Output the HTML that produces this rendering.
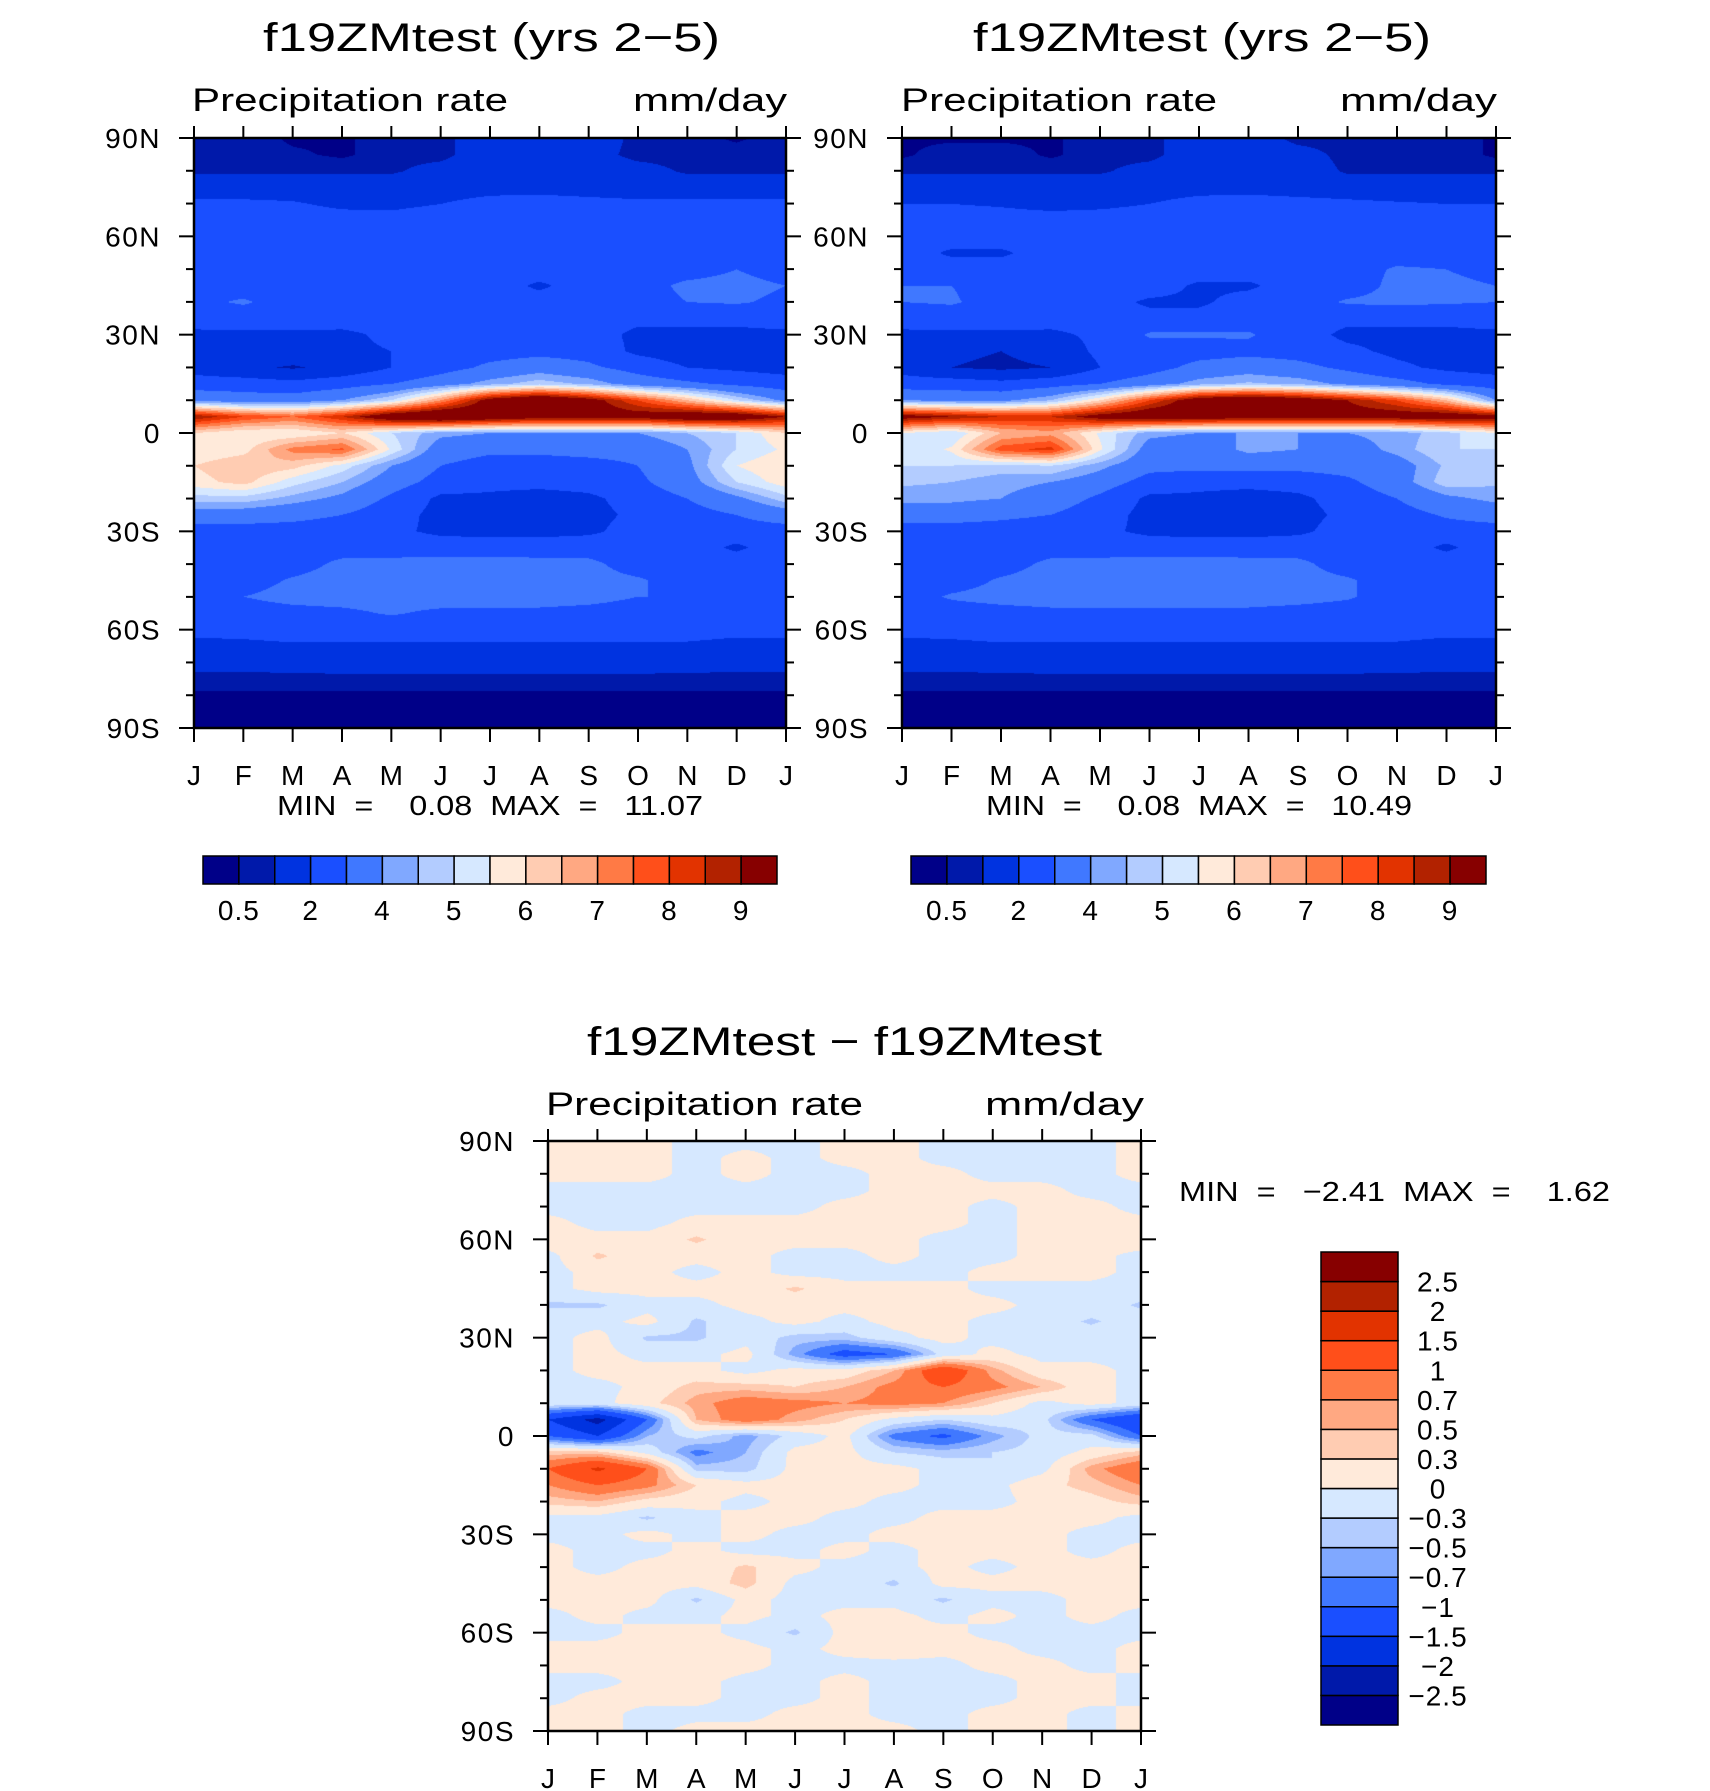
<!DOCTYPE html>
<html><head><meta charset="utf-8"><style>
html,body{margin:0;padding:0;background:#fff;}
#wrap{position:relative;width:1710px;height:1791px;overflow:hidden;}
canvas{position:absolute;}
svg{position:absolute;left:0;top:0;}
text{font-family:"Liberation Sans",sans-serif;fill:#000;white-space:pre;}
</style></head><body>
<div id="wrap">
<canvas id="c1"></canvas>
<canvas id="c2"></canvas>
<canvas id="c3"></canvas>
<svg id="ov" width="1710" height="1791"></svg>
</div>
<script>
// ---- data ----
const months = ["J","F","M","A","M","J","J","A","S","O","N","D","J"];
const latLabels = ["90N","60N","30N","0","30S","60S","90S"];
const colors = ["#000088","#0019aa","#0033e0","#1a4fff","#4078ff","#80a8ff","#b3ccff","#d6e8ff","#ffeada","#ffccb2","#ffa882","#ff7a45","#ff4f1a","#e23300","#b22200","#870000"];
const precipLevels = [0.5,1,2,3,4,4.5,5,5.5,6,6.5,7,7.5,8,8.5,9];
const precipLabelIdx = [0,2,4,6,8,10,12,14];
const precipLabels = ["0.5","2","4","5","6","7","8","9"];
const diffLevels = [-2.5,-2,-1.5,-1,-0.7,-0.5,-0.3,0,0.3,0.5,0.7,1,1.5,2,2.5];
const diffLabels = ["-2.5","-2","-1.5","-1","-0.7","-0.5","-0.3","0","0.3","0.5","0.7","1","1.5","2","2.5"];
// rows: latitude 90N to 90S every 5 deg; columns: J..D,J
const precip1 = [
[0.8,0.8,0.4,0.4,0.8,0.8,1.5,1.5,1.5,0.8,0.8,0.4,0.8],
[0.8,0.8,0.6,0.4,0.8,0.8,1.5,1.5,1.3,0.8,0.8,0.8,0.8],
[0.9,0.9,0.9,0.9,0.9,1.3,1.5,1.5,1.5,1.3,0.9,0.9,0.9],
[1.5,1.5,1.5,1.5,1.5,1.6,1.7,1.7,1.6,1.5,1.5,1.5,1.5],
[2.2,2.2,2.1,1.8,1.8,2.0,2.3,2.4,2.3,2.2,2.2,2.2,2.2],
[2.5,2.5,2.5,2.4,2.3,2.5,2.6,2.6,2.6,2.5,2.5,2.5,2.5],
[2.6,2.6,2.6,2.6,2.6,2.6,2.6,2.6,2.6,2.6,2.6,2.6,2.6],
[2.6,2.6,2.6,2.6,2.6,2.6,2.6,2.6,2.6,2.6,2.6,2.6,2.6],
[2.6,2.6,2.6,2.6,2.6,2.6,2.6,2.6,2.6,2.6,2.6,3.0,2.6],
[3.0,2.6,2.6,2.6,2.6,2.6,2.6,1.8,2.6,2.6,3.2,3.3,3.0],
[2.8,3.1,2.6,2.5,2.5,2.5,2.5,2.5,2.6,2.6,3.0,3.1,2.8],
[2.4,2.5,2.5,2.4,2.4,2.4,2.4,2.6,2.5,2.2,2.2,2.2,2.4],
[1.8,1.8,1.8,1.8,2.2,2.4,2.5,2.5,2.4,1.8,1.8,1.8,1.8],
[1.5,1.5,1.6,1.8,2.0,2.5,2.6,2.7,2.6,1.8,1.5,1.5,1.5],
[1.6,1.2,0.9,1.3,2.0,2.6,3.2,3.6,3.2,2.6,2.0,1.8,1.6],
[2.5,2.5,2.3,2.6,3.0,3.6,4.3,4.8,4.4,3.6,3.2,2.8,2.5],
[3.8,3.5,3.5,4.0,5.0,7.0,9.5,10.5,9.5,8.0,6.5,5.0,3.8],
[9.0,8.0,7.5,8.5,10,10.5,10,9.5,9.5,9.5,10,10,9.0],
[6.0,5.5,5.5,6.0,5.0,4.2,4.0,4.0,4.0,4.0,4.5,5.0,6.0],
[5.6,5.8,7.2,7.6,5.4,3.5,3.2,3.2,3.3,3.3,4.0,5.0,5.6],
[6.0,6.4,6.2,5.3,4.0,3.0,2.6,2.6,2.7,3.0,3.8,5.5,6.0],
[5.8,6.2,5.2,4.5,3.5,2.6,2.3,2.3,2.4,2.8,3.6,5.0,5.8],
[4.8,4.8,4.3,3.8,2.8,1.8,1.8,1.6,1.8,2.4,3.0,3.8,4.8],
[3.5,3.5,3.3,3.0,2.4,1.7,1.6,1.6,1.7,2.2,2.6,3.0,3.5],
[2.6,2.6,2.6,2.5,2.2,1.8,1.7,1.7,1.8,2.4,2.5,2.6,2.6],
[2.6,2.6,2.6,2.6,2.5,2.5,2.5,2.5,2.6,2.6,2.6,1.8,2.6],
[2.6,2.6,2.6,3.2,3.3,3.4,3.4,3.3,3.2,2.6,2.6,2.6,2.6],
[2.6,2.6,3.1,3.4,3.5,3.5,3.5,3.5,3.3,3.1,2.6,2.6,2.6],
[2.6,3.0,3.3,3.4,3.4,3.5,3.5,3.4,3.3,3.0,3.0,2.6,2.6],
[2.5,2.6,2.7,2.8,3.1,2.8,2.8,2.8,2.7,2.6,2.6,2.5,2.5],
[2.2,2.3,2.4,2.4,2.4,2.4,2.4,2.4,2.4,2.4,2.3,2.2,2.2],
[1.8,1.8,1.9,1.9,1.9,1.9,1.9,1.9,1.9,1.9,1.9,1.8,1.8],
[1.3,1.3,1.4,1.5,1.5,1.5,1.5,1.5,1.5,1.5,1.4,1.3,1.3],
[0.8,0.8,0.8,0.8,0.8,0.8,0.8,0.8,0.8,0.8,0.8,0.8,0.8],
[0.4,0.4,0.4,0.4,0.4,0.4,0.4,0.4,0.4,0.4,0.4,0.4,0.4],
[0.3,0.3,0.3,0.3,0.3,0.3,0.3,0.3,0.3,0.3,0.3,0.3,0.3],
[0.3,0.3,0.3,0.3,0.3,0.3,0.3,0.3,0.3,0.3,0.3,0.3,0.3]
];
const precip2 = [
[0.4,0.4,0.4,0.4,0.8,0.8,1.5,1.5,0.8,0.8,0.8,0.8,0.4],
[0.4,0.8,0.8,0.4,0.8,0.8,1.5,1.5,1.3,0.8,0.8,0.8,0.4],
[0.9,0.9,0.9,0.9,0.9,1.3,1.5,1.5,1.5,0.9,0.9,0.9,0.9],
[1.4,1.4,1.5,1.5,1.5,1.6,1.7,1.7,1.6,1.5,1.4,1.4,1.4],
[2.0,2.0,1.9,1.7,1.8,2.0,2.3,2.4,2.3,2.2,2.1,2.0,2.0],
[2.5,2.5,2.4,2.4,2.4,2.5,2.6,2.6,2.6,2.5,2.5,2.5,2.5],
[2.6,2.6,2.6,2.6,2.6,2.6,2.6,2.6,2.6,2.6,2.6,2.6,2.6],
[2.6,1.8,1.8,2.6,2.6,2.6,2.6,2.6,2.6,2.6,2.6,2.6,2.6],
[2.6,2.6,2.6,2.6,2.6,2.6,2.6,2.6,2.6,2.6,3.1,3.0,2.6],
[3.0,3.0,2.6,2.6,2.6,2.6,1.8,1.8,2.6,2.6,3.2,3.3,3.0],
[3.0,3.1,2.6,2.5,2.5,1.8,1.8,2.5,2.6,3.1,3.2,3.1,3.0],
[2.4,2.5,2.5,2.4,2.4,2.4,2.4,2.6,2.5,2.2,2.2,2.2,2.4],
[1.8,1.8,1.8,1.8,2.2,3.1,3.1,3.1,2.4,1.8,1.8,1.8,1.8],
[1.6,1.2,1.0,1.4,2.2,2.5,2.6,2.7,2.6,2.2,1.8,1.6,1.6],
[1.6,1.0,0.8,1.0,2.0,2.6,3.3,3.6,3.3,2.8,2.2,1.8,1.6],
[2.5,2.5,2.3,2.6,3.0,3.6,4.3,4.6,4.4,3.8,3.4,2.8,2.5],
[4.0,3.8,3.8,4.5,6.0,8.0,9.8,10.3,9.8,9.0,8.0,6.5,4.0],
[9.5,9.0,8.5,8.5,9.5,10,9.8,9.5,9.5,9.5,9.6,9.8,9.5],
[5.5,5.0,6.5,6.8,5.4,4.2,4.0,4.0,4.0,4.0,4.2,4.8,5.5],
[5.0,5.6,7.8,8.2,5.6,3.6,3.4,4.2,4.0,3.6,4.2,5.0,5.0],
[5.0,5.0,4.8,5.0,4.2,3.3,3.3,3.3,3.3,3.4,3.6,4.6,5.0],
[4.6,4.5,4.2,4.0,3.5,2.6,2.3,2.3,2.4,2.8,3.6,4.8,4.6],
[4.2,4.2,4.0,3.6,2.8,1.8,1.8,1.6,1.8,2.4,3.0,3.8,4.2],
[3.4,3.4,3.2,3.0,2.4,1.7,1.6,1.6,1.7,2.2,2.6,3.1,3.4],
[2.6,2.6,2.6,2.5,2.2,1.8,1.7,1.7,1.8,2.4,2.5,2.6,2.6],
[2.6,2.6,2.6,2.6,2.5,2.5,2.5,2.5,2.6,2.6,2.6,1.8,2.6],
[2.6,2.6,2.6,3.2,3.3,3.4,3.4,3.3,3.2,2.6,2.6,2.6,2.6],
[2.6,2.6,3.1,3.4,3.5,3.5,3.5,3.5,3.3,3.1,2.6,2.6,2.6],
[2.6,3.1,3.3,3.4,3.4,3.5,3.5,3.4,3.3,3.1,2.6,2.6,2.6],
[2.5,2.6,2.7,2.8,2.8,2.8,2.8,2.8,2.7,2.6,2.6,2.5,2.5],
[2.2,2.3,2.4,2.4,2.4,2.4,2.4,2.4,2.4,2.4,2.3,2.2,2.2],
[1.8,1.8,1.9,1.9,1.9,1.9,1.9,1.9,1.9,1.9,1.9,1.8,1.8],
[1.3,1.3,1.4,1.5,1.5,1.5,1.5,1.5,1.5,1.5,1.4,1.3,1.3],
[0.8,0.8,0.8,0.8,0.8,0.8,0.8,0.8,0.8,0.8,0.8,0.8,0.8],
[0.4,0.4,0.4,0.4,0.4,0.4,0.4,0.4,0.4,0.4,0.4,0.4,0.4],
[0.3,0.3,0.3,0.3,0.3,0.3,0.3,0.3,0.3,0.3,0.3,0.3,0.3],
[0.3,0.3,0.3,0.3,0.3,0.3,0.3,0.3,0.3,0.3,0.3,0.3,0.3]
];
const diff = [
[0.1,0.1,0.1,-0.1,-0.1,-0.1,0.1,0.1,-0.1,-0.1,-0.1,-0.1,0.1],
[0.1,0.1,0.1,-0.1,0.1,-0.1,0.1,0.1,-0.1,-0.1,-0.1,-0.1,0.1],
[0.1,0.1,0.1,-0.1,0.1,-0.1,-0.1,0.1,0.1,-0.1,-0.1,-0.1,0.1],
[-0.1,-0.1,-0.1,-0.1,-0.1,-0.1,-0.1,0.1,0.1,0.1,0.1,-0.1,-0.1],
[-0.1,-0.1,-0.1,-0.1,-0.1,-0.1,0.1,0.1,0.1,-0.1,0.1,0.1,-0.1],
[0.1,-0.1,-0.1,0.1,0.1,0.1,0.1,0.1,0.1,-0.1,0.1,0.1,0.1],
[0.2,0.1,0.1,0.35,0.1,0.1,0.1,0.1,-0.1,-0.1,0.1,0.1,0.2],
[-0.1,0.35,0.1,0.1,0.1,-0.1,-0.1,0.1,-0.1,-0.1,0.1,0.1,-0.1],
[-0.1,0.1,0.1,-0.1,0.1,-0.1,-0.1,-0.1,-0.1,0.1,0.1,0.1,-0.1],
[-0.1,0.1,0.1,0.1,0.1,0.35,0.1,0.1,0.1,-0.1,-0.1,-0.1,-0.1],
[-0.35,-0.35,-0.1,-0.1,0.1,0.1,0.1,0.1,0.1,0.1,-0.1,-0.1,-0.35],
[-0.1,-0.1,0.1,-0.35,-0.1,0.1,-0.1,0.1,0.1,-0.1,-0.1,-0.35,-0.1],
[-0.1,0.1,-0.35,-0.35,-0.1,-0.4,-0.4,-0.1,0.1,-0.1,-0.1,-0.1,-0.1],
[-0.1,0.1,-0.1,-0.1,0.1,-0.6,-1.2,-1.0,-0.2,0.1,-0.1,-0.1,-0.1],
[-0.1,0.1,0.1,0.1,-0.1,0.1,0.1,0.5,1.4,0.6,0.1,0.1,-0.1],
[-0.1,-0.1,0.1,0.4,0.4,0.3,0.5,0.8,1.0,0.8,0.5,0.1,-0.1],
[-0.1,-0.1,0.2,0.6,0.9,0.8,0.7,0.8,0.7,0.3,-0.1,0.1,-0.1],
[-1.5,-2.2,-1.0,0.5,0.9,0.6,0.3,-0.1,-0.3,-0.1,-0.2,-1.0,-1.5],
[-1.0,-1.5,-0.5,-0.2,-0.6,-0.2,0.1,-0.8,-1.1,-0.6,-0.2,-0.2,-1.0],
[0.4,0.4,-0.1,-0.8,-0.5,0.1,0.1,-0.3,-0.4,-0.3,-0.2,0.1,0.4],
[1.0,1.6,1.0,-0.4,-0.4,0.1,0.1,0.1,-0.1,-0.3,-0.1,0.6,1.0],
[0.7,1.0,0.8,0.3,0.1,0.1,0.1,0.1,-0.1,-0.1,0.2,0.4,0.7],
[0.4,0.5,0.2,0.1,-0.1,0.1,0.1,-0.1,-0.1,-0.1,0.1,0.2,0.4],
[-0.1,-0.1,-0.35,-0.1,0.1,0.1,-0.1,-0.1,0.1,0.1,0.1,0.1,-0.1],
[-0.1,-0.1,0.1,-0.1,0.1,-0.1,-0.1,0.1,0.1,0.1,0.1,-0.1,-0.1],
[0.1,-0.1,-0.1,0.1,-0.1,-0.1,0.1,-0.1,0.1,0.1,0.1,-0.1,0.1],
[0.1,-0.1,0.1,0.1,0.35,0.1,-0.1,-0.1,0.1,-0.1,0.1,0.1,0.1],
[0.1,0.1,0.1,0.1,0.4,-0.1,-0.1,-0.35,0.1,0.1,0.1,0.1,0.1],
[0.1,0.1,0.1,-0.35,0.1,-0.1,-0.1,-0.1,-0.35,-0.1,-0.1,0.1,0.1],
[-0.1,0.1,-0.1,-0.1,0.1,-0.1,0.1,0.1,-0.1,0.1,-0.1,0.1,-0.1],
[-0.1,-0.1,0.1,0.1,-0.1,-0.35,0.1,0.1,0.1,-0.1,-0.1,-0.1,-0.1],
[0.1,0.1,0.1,0.1,0.1,-0.1,0.1,0.2,0.1,0.1,-0.1,-0.1,0.1],
[0.1,0.1,0.1,0.2,0.1,-0.1,-0.1,-0.1,-0.1,0.1,0.1,-0.1,0.1],
[-0.1,-0.1,0.1,0.1,-0.1,-0.1,0.1,-0.1,-0.1,-0.1,0.1,0.1,-0.1],
[-0.1,0.1,0.1,0.1,-0.1,-0.1,0.1,-0.1,-0.1,-0.1,0.1,0.1,-0.1],
[0.1,0.1,-0.1,-0.1,-0.1,0.1,0.1,-0.1,-0.1,0.1,0.1,-0.1,0.1],
[0.1,0.1,-0.1,0.1,0.1,0.1,0.1,0.1,-0.1,0.1,0.1,-0.1,0.1]
];

// ---- rendering ----
const panels = [
 {id:"c1",x:194,y:138,w:592,h:590,data:precip1,levels:precipLevels},
 {id:"c2",x:902,y:138,w:594,h:590,data:precip2,levels:precipLevels},
 {id:"c3",x:548,y:1141,w:593,h:590,data:diff,levels:diffLevels}
];
function hex(c){return [parseInt(c.slice(1,3),16),parseInt(c.slice(3,5),16),parseInt(c.slice(5,7),16)];}
const rgb = colors.map(hex);
function colorIndex(v,levels){let i=0;while(i<levels.length&&v>=levels[i])i++;return i;}
function drawField(p){
  const cv=document.getElementById(p.id);
  cv.width=p.w;cv.height=p.h;cv.style.left=p.x+"px";cv.style.top=p.y+"px";
  const ctx=cv.getContext("2d");const img=ctx.createImageData(p.w,p.h);
  const nr=p.data.length-1, nc=p.data[0].length-1;
  for(let py=0;py<p.h;py++){
    const fy=py/(p.h-1)*nr;const r0=Math.min(Math.floor(fy),nr-1);const ty=fy-r0;
    for(let px=0;px<p.w;px++){
      const fx=px/(p.w-1)*nc;const c0=Math.min(Math.floor(fx),nc-1);const tx=fx-c0;
      const d=p.data;
      const v=(d[r0][c0]*(1-tx)+d[r0][c0+1]*tx)*(1-ty)+(d[r0+1][c0]*(1-tx)+d[r0+1][c0+1]*tx)*ty;
      const k=rgb[colorIndex(v,p.levels)];const o=(py*p.w+px)*4;
      img.data[o]=k[0];img.data[o+1]=k[1];img.data[o+2]=k[2];img.data[o+3]=255;
    }
  }
  ctx.putImageData(img,0,0);
}
panels.forEach(drawField);

const NS="http://www.w3.org/2000/svg";const ov=document.getElementById("ov");
function el(tag,attrs,parent){const e=document.createElementNS(NS,tag);for(const k in attrs)e.setAttribute(k,attrs[k]);(parent||ov).appendChild(e);return e;}
function txt(s,x,y,size,anchor,len,ls){
  const t=el("text",{x:x,y:y,"font-size":size,"text-anchor":anchor||"start"});
  if(len){t.setAttribute("textLength",len);t.setAttribute("lengthAdjust","spacingAndGlyphs");}
  if(ls){t.setAttribute("letter-spacing",ls);}
  t.textContent=s.replace(/-/g,"\u2212");return t;
}
panels.forEach((p,pi)=>{
  const g=el("g",{});
  
  
  el("rect",{x:p.x,y:p.y,width:p.w,height:p.h,fill:"none",stroke:"#000","stroke-width":2.5},g);
  for(let k=0;k<=18;k++){
    const y=p.y+k*p.h/18;const major=k%3===0;const L=major?15:8;
    el("line",{x1:p.x-L,x2:p.x,y1:y,y2:y,stroke:"#000","stroke-width":2},g);
    el("line",{x1:p.x+p.w,x2:p.x+p.w+L,y1:y,y2:y,stroke:"#000","stroke-width":2},g);
  }
  latLabels.forEach((s,i)=>{
    const t=txt(s,p.x-33,p.y+i*p.h/6+10,28,"end",null,1.5);
    
    
  });
  months.forEach((m,i)=>{
    const x=p.x+i*p.w/12;
    el("line",{x1:x,x2:x,y1:p.y-12,y2:p.y,stroke:"#000","stroke-width":2},g);
    el("line",{x1:x,x2:x,y1:p.y+p.h,y2:p.y+p.h+14,stroke:"#000","stroke-width":2},g);
    const t=txt(m,x,p.y+p.h+57,28,"middle");
    
    
  });
});
[[263,720],[973,1431]].forEach(([a,b],i)=>{
  const t=txt("f19ZMtest (yrs 2-5)",a,51,40,"start",b-a);
  
  
});
[[192,508,633,787],[901,1217,1340,1497]].forEach(([a,b,c,d])=>{
  const t=txt("Precipitation rate",a,111,32,"start",b-a);
  
  
  const u=txt("mm/day",c,111,32,"start",d-c);
  
  
});
const t3=txt("f19ZMtest - f19ZMtest",587,1055,40,"start",515);


const s3=txt("Precipitation rate",546,1115,32,"start",317);


const u3=txt("mm/day",985,1115,32,"start",159);


const mm1=txt("MIN  =    0.08  MAX  =   11.07",277,815,28,"start",426);


const mm2=txt("MIN  =    0.08  MAX  =   10.49",986,815,28,"start",426);


const mm3=txt("MIN  =   -2.41  MAX  =    1.62",1179,1201,28,"start",431);


[[203,777],[911,1486]].forEach(([a,b])=>{
  const g=el("g",{});
  
  
  const bw=(b-a)/colors.length;
  colors.forEach((c,i)=>{
    const r=el("rect",{x:a+i*bw,y:856,width:bw,height:28,fill:c,stroke:"#000","stroke-width":1.5},g);
    
    
  });
  precipLabelIdx.forEach((k,j)=>{
    const t=txt(precipLabels[j],a+(k+1)*bw,920,28,"middle",null,1);
    
    
  });
});
(function(){
  const g=el("g",{});
  
  
  const x=1321,w=77,top=1252,bot=1725,bh=(bot-top)/colors.length;
  colors.forEach((c,i)=>{
    const r=el("rect",{x:x,y:bot-(i+1)*bh,width:w,height:bh,fill:c,stroke:"#000","stroke-width":1.5},g);
    
    
  });
  diffLabels.forEach((s,i)=>{
    const t=txt(s,1438,bot-(i+1)*bh+10,28,"middle",null,1);
    
    
  });
})();
</script>
</body></html>
